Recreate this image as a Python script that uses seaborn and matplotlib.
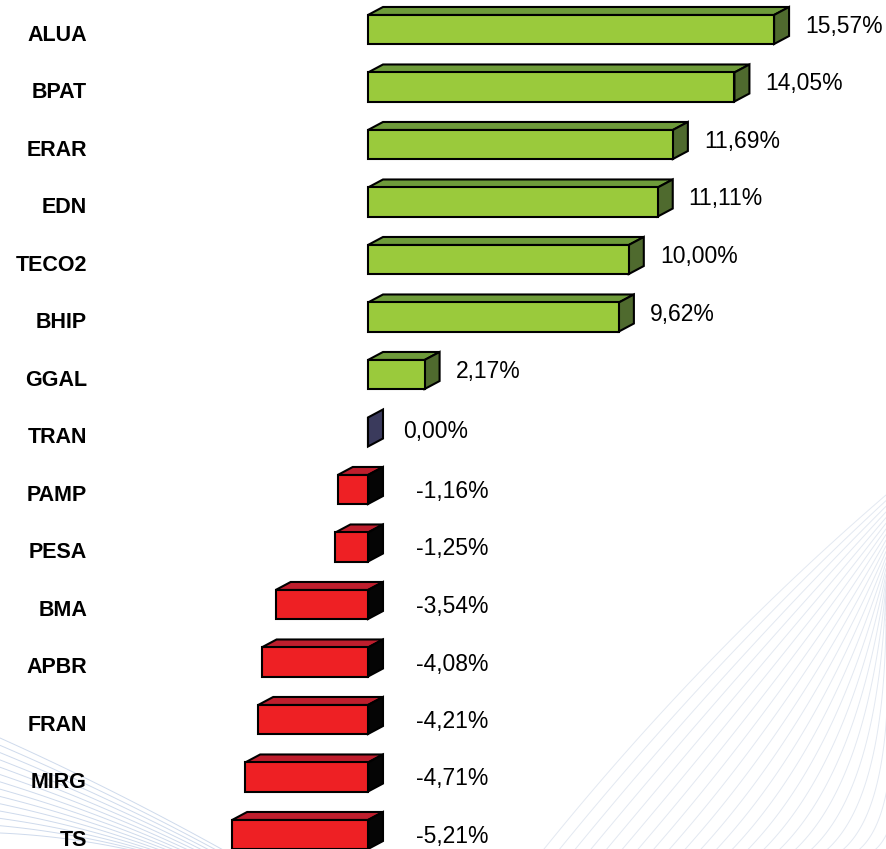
import matplotlib
matplotlib.use("Agg")
import matplotlib.pyplot as plt
import matplotlib.transforms as mtransforms
from matplotlib.patches import Polygon
import numpy as np
import pandas as pd
import seaborn as sns

# ---- data ----
tickers = ["ALUA", "BPAT", "ERAR", "EDN", "TECO2", "BHIP", "GGAL", "TRAN",
           "PAMP", "PESA", "BMA", "APBR", "FRAN", "MIRG", "TS"]
changes = [15.57, 14.05, 11.69, 11.11, 10.00, 9.62, 2.17, 0.00,
           -1.16, -1.25, -3.54, -4.08, -4.21, -4.71, -5.21]
value_labels = [f"{v:.2f}".replace(".", ",") + "%" for v in changes]

df = pd.DataFrame({"ticker": tickers, "change": changes})

# ---- styles ----
POS = dict(front="#9ACA3C", top="#6E9B3A", side="#4F6A2E")
NEG = dict(front="#EE2024", top="#BE1E2D", side="#050505")
ZERO = dict(front="#3A3A5C", top="#3A3A5C", side="#3A3A5C")


def style_for(v):
    if v > 0:
        return POS
    if v < 0:
        return NEG
    return ZERO


W, H = 886, 849
sns.set_theme(style="white")
plt.rcParams["font.family"] = ["Liberation Sans", "DejaVu Sans"]

fig = plt.figure(figsize=(W / 100, H / 100), dpi=100)
fig.patch.set_facecolor("white")

# decorative background lines
bg = fig.add_axes([0, 0, 1, 1], zorder=0)
bg.set_xlim(0, W)
bg.set_ylim(H, 0)
bg.axis("off")
t = np.linspace(0, 1, 60)
for k in np.linspace(0, 1, 24):
    p0 = np.array([W, 495 + 130 * k])
    p2 = np.array([540 + 360 * k, H + 5])
    p1 = np.array([p2[0] + 120 * (1 - k) + 40, p0[1] + 160 + 60 * k])
    pts = ((1 - t) ** 2)[:, None] * p0 + (2 * (1 - t) * t)[:, None] * p1 + (t ** 2)[:, None] * p2
    bg.plot(pts[:, 0], pts[:, 1], color="#DCE3EE", lw=0.7, alpha=0.8)
for k in np.linspace(0, 1, 14):
    p0 = np.array([0, 738 + 95 * k])
    p2 = np.array([225 - 90 * k, H + 2])
    p1 = np.array([(p0[0] + p2[0]) / 2, (p0[1] + p2[1]) / 2 - 6])
    pts = ((1 - t) ** 2)[:, None] * p0 + (2 * (1 - t) * t)[:, None] * p1 + (t ** 2)[:, None] * p2
    bg.plot(pts[:, 0], pts[:, 1], color="#C9D6EA", lw=0.7, alpha=0.9)

# main axes
ax = fig.add_axes([0, 0, 1, 1], zorder=1)
ax.patch.set_alpha(0)

front_palette = {tk: style_for(v)["front"] for tk, v in zip(tickers, changes)}
sns.barplot(data=df, x="change", y="ticker", hue="ticker", palette=front_palette,
            orient="h", width=0.505, saturation=1, edgecolor="black",
            linewidth=1.5, legend=False, ax=ax, zorder=3)

px_per_unit = 26.08
row_px = 57.5
x0_px = 368
ax.set_xlim(-x0_px / px_per_unit, (W - x0_px) / px_per_unit)
ax.set_ylim((H - 29.5) / row_px, -29.5 / row_px)
ax.axis("off")

dx = 15 / px_per_unit
dy = 8 / row_px

for p in ax.patches:
    x, w = p.get_x(), p.get_width()
    y, h = p.get_y(), p.get_height()
    row = int(round(y + h / 2))
    v = changes[row]
    st = style_for(v)
    xl, xr = min(x, x + w), max(x, x + w)
    ytop, ybot = y, y + h
    if v != 0:
        top = Polygon([(xl, ytop), (xr, ytop), (xr + dx, ytop - dy), (xl + dx, ytop - dy)],
                      closed=True, facecolor=st["top"], edgecolor="black", lw=1.5, zorder=2)
        ax.add_patch(top)
    side = Polygon([(xr, ytop), (xr + dx, ytop - dy), (xr + dx, ybot - dy), (xr, ybot)],
                   closed=True, facecolor=st["side"], edgecolor="black", lw=1.5, zorder=2)
    ax.add_patch(side)

# ticker names on the left
trans = mtransforms.blended_transform_factory(ax.transAxes, ax.transData)
for i, tk in enumerate(tickers):
    ax.text(87 / W, i + 6 / row_px, tk, transform=trans, ha="right", va="center",
            fontsize=15.5, fontweight="bold", color="black")

# value labels
for i, (v, lab) in enumerate(zip(changes, value_labels)):
    if v > 0:
        ax.text(v + dx + 16 / px_per_unit, i - 3 / row_px, lab, ha="left", va="center",
                fontsize=16.5, color="black")
    elif v == 0:
        ax.text(dx + 20 / px_per_unit, i, lab, ha="left", va="center",
                fontsize=16.5, color="black")
    else:
        ax.text(dx + 33 / px_per_unit, i + 2 / row_px, lab, ha="left", va="center",
                fontsize=16.5, color="black")

fig.savefig("out.png", dpi=100, facecolor="white")
